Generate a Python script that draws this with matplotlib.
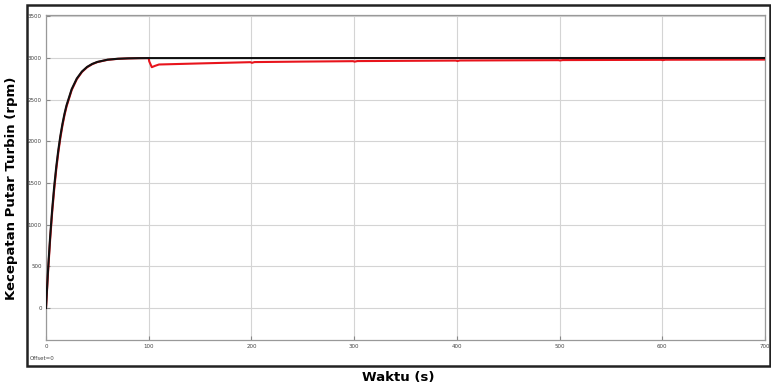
import matplotlib
matplotlib.use("Agg")
import matplotlib.pyplot as plt
from matplotlib.patches import Rectangle

# reference (black) response
t_ref = [0, 2, 4, 6, 8, 10, 12, 14, 16, 18, 20, 25, 30, 35, 40, 45, 50, 60, 70, 80, 90, 100, 700]
v_ref = [0, 460, 850, 1180, 1460, 1696, 1896, 2066, 2209, 2331, 2433, 2626, 2754, 2838, 2893,
         2929, 2953, 2980, 2991, 2996, 2998, 2999, 3000]

# actual (red) response with load steps
t_act = [0, 2, 4, 6, 8, 10, 12, 14, 16, 18, 20, 25, 30, 35, 40, 45, 50, 60, 70, 80, 90, 100,
         100.5, 103, 106, 110, 150, 199, 200.5, 203, 250, 299, 300.5, 303, 350, 399, 400.5, 403,
         499, 500.5, 503, 599, 600.5, 603, 700]
v_act = [0, 430, 815, 1145, 1425, 1665, 1868, 2042, 2188, 2313, 2418, 2615, 2746, 2832, 2889,
         2926, 2951, 2978, 2990, 2995, 2998, 2999,
         2960, 2890, 2905, 2922, 2935, 2950, 2942, 2951, 2957, 2962, 2956, 2963, 2966, 2969,
         2964, 2970, 2974, 2970, 2975, 2978, 2974, 2979, 2981]

x_ticks = [0, 100, 200, 300, 400, 500, 600, 700]
y_ticks = [0, 500, 1000, 1500, 2000, 2500, 3000, 3500]

fig = plt.figure(figsize=(7.71, 3.85), dpi=100)
W, H = 771, 385
ax = fig.add_axes([46 / W, 1 - 340 / H, (765 - 46) / W, (340 - 15) / H])

ax.plot(t_act, v_act, color="#e8141c", lw=1.5, zorder=3)
ax.plot(t_ref, v_ref, color="#111111", lw=1.5, zorder=4)

ax.set_xlim(0, 700)
ax.set_ylim(-384, 3516)
ax.set_xticks(x_ticks)
ax.set_yticks(y_ticks)
ax.grid(True, color="#d4d4d4", lw=0.8)
ax.tick_params(direction="in", length=3, width=0.8, color="#888888",
               labelsize=4, labelcolor="#444444", pad=3)
for s in ax.spines.values():
    s.set_color("#999999")
    s.set_linewidth(0.9)

fig.text(398 / W, 1 - 377 / H, "Waktu (s)", ha="center", va="center",
         fontsize=9.5, fontweight="bold", family="DejaVu Sans")
fig.text(12 / W, 1 - 188 / H, "Kecepatan Putar Turbin (rpm)", ha="center", va="center",
         rotation=90, fontsize=9.5, fontweight="bold", family="DejaVu Sans")
fig.text(30 / W, 1 - 358 / H, "Offset=0", ha="left", va="center", fontsize=4,
         color="#444444")

fig.patches.append(Rectangle((27 / W, 1 - 366 / H), (770 - 27) / W, (366 - 5) / H,
                             transform=fig.transFigure, fill=False, edgecolor="#222222",
                             lw=1.8))

fig.savefig("out.png", dpi=100)
